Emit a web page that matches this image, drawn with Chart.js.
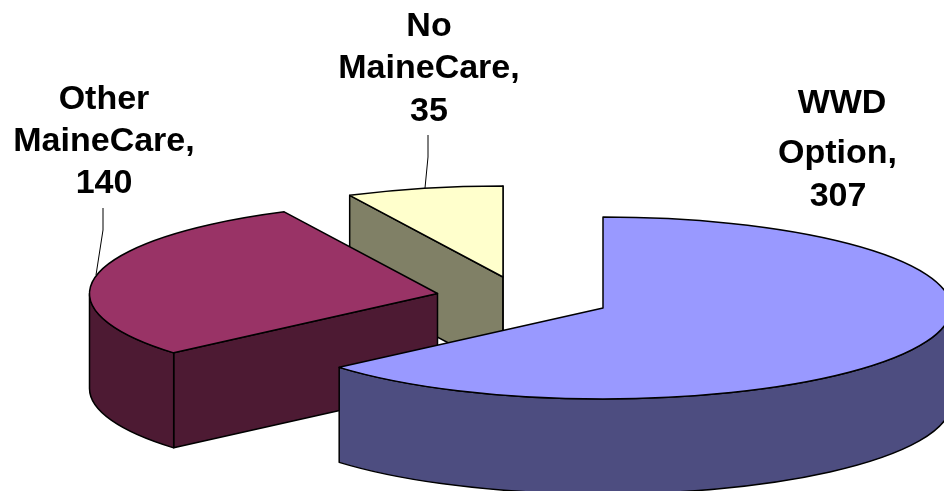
<!DOCTYPE html>
<html>
<head>
<meta charset="utf-8">
<style>html,body{margin:0;padding:0;background:#fff;overflow:hidden}canvas{display:block}</style>
<script src="https://cdn.jsdelivr.net/npm/chart.js@4"></script>
</head>
<body>
<canvas id="c" width="944" height="491"></canvas>
<script>
const categories = ["WWD Option", "Other MaineCare", "No MaineCare"];
const values = [307, 140, 35];
const topColors = ["#9999FF", "#993366", "#FFFFCC"];
const sideColors = ["#4D4D80", "#4D1A33", "#808066"];

const labelLines = [
  ["WWD", "Option,", "307"],
  ["Other", "MaineCare,", "140"],
  ["No", "MaineCare,", "35"]
];

// view of the tilted, exploded pie
const view = {
  rx: 348, ry: 91, depth: 95,
  apex: [[603, 308], [437.5, 293.5], [503, 277]],
  drawOrder: [2, 1, 0],
  labelX: [[842, 837.5, 838], [104, 104, 104], [429, 429, 429]],
  labelY: [[113, 163, 206], [109, 151, 193], [36, 78, 121]],
  leaders: [null, [[103, 208], [103, 230], [96, 275]], [[428, 135], [428, 157], [425, 188]]]
};

const pie3d = {
  id: 'pie3d',
  beforeDatasetsDraw(chart) {
    const ctx = chart.ctx;
    const arcs = chart.getDatasetMeta(0).data;
    const {rx, ry, depth} = view;
    ctx.save();
    ctx.lineWidth = 1.5;
    ctx.lineJoin = 'round';
    ctx.strokeStyle = '#000';

    const paint = (fill) => { ctx.fillStyle = fill; ctx.fill(); ctx.stroke(); };

    view.drawOrder.forEach(i => {
      const {startAngle: a0, endAngle: a1} = arcs[i].getProps(['startAngle', 'endAngle'], true);
      const [cx, cy] = view.apex[i];

      // radial walls that face the viewer
      [[a0, Math.cos(a0) < -1e-6], [a1, Math.cos(a1) > -1e-6]].forEach(([a, visible]) => {
        if (!visible) return;
        const px = cx + rx * Math.cos(a), py = cy + ry * Math.sin(a);
        ctx.beginPath();
        ctx.moveTo(cx, cy);
        ctx.lineTo(px, py);
        ctx.lineTo(px, py + depth);
        ctx.lineTo(cx, cy + depth);
        ctx.closePath();
        paint(sideColors[i]);
      });

      // outer wall: the part of the rim facing the viewer
      const from = Math.max(a0, 0), to = Math.min(a1, Math.PI);
      if (to > from) {
        ctx.beginPath();
        ctx.ellipse(cx, cy, rx, ry, 0, from, to);
        ctx.ellipse(cx, cy + depth, rx, ry, 0, to, from, true);
        ctx.closePath();
        paint(sideColors[i]);
      }

      // top face
      ctx.beginPath();
      ctx.moveTo(cx, cy);
      ctx.ellipse(cx, cy, rx, ry, 0, a0, a1);
      ctx.closePath();
      paint(topColors[i]);
    });

    // leader lines
    ctx.lineWidth = 1;
    view.leaders.forEach(pts => {
      if (!pts) return;
      ctx.beginPath();
      pts.forEach((p, k) => k ? ctx.lineTo(p[0], p[1]) : ctx.moveTo(p[0], p[1]));
      ctx.stroke();
    });

    // data labels
    ctx.fillStyle = '#000';
    ctx.font = 'bold 34px "Liberation Sans", Arial, sans-serif';
    ctx.textAlign = 'center';
    ctx.textBaseline = 'alphabetic';
    labelLines.forEach((lines, i) => {
      lines.forEach((t, k) => ctx.fillText(t, view.labelX[i][k], view.labelY[i][k]));
    });
    ctx.restore();
    return false;
  }
};

new Chart(document.getElementById('c'), {
  type: 'pie',
  data: {
    labels: categories,
    datasets: [{ data: values, backgroundColor: topColors, borderColor: '#000', borderWidth: 1 }]
  },
  options: {
    responsive: false,
    animation: false,
    plugins: { legend: { display: false }, tooltip: { enabled: false } }
  },
  plugins: [pie3d]
});
</script>
</body>
</html>
